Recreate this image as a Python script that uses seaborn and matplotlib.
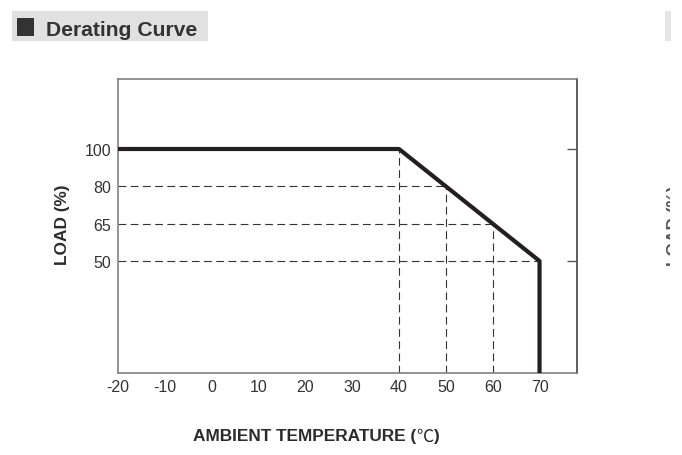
import numpy as np
import pandas as pd
import matplotlib
matplotlib.use("Agg")
import matplotlib.pyplot as plt
from matplotlib.patches import Rectangle
import seaborn as sns

# derating curve
temp = [-20, 40, 50, 60, 70, 70]
load = [100, 100, 80, 65, 50, 0]
x_ticks = [-20, -10, 0, 10, 20, 30, 40, 50, 60, 70]
y_ticks = [100, 80, 65, 50]
right_ticks = [100, 50]
# dashed guides: (load, temp where it ends) and (temp, load where it ends)
h_guides = [(80, 50), (65, 60), (50, 70)]
v_guides = [(40, 100), (50, 80), (60, 65)]

# load axis is not linear: 50/65/80/100 sit equally spaced
load_pts = [0, 50, 65, 80, 100, 200]
axis_pts = [0, 3, 4, 5, 6, 11]
def fwd(v):
    return np.interp(v, load_pts, axis_pts)
def inv(v):
    return np.interp(v, axis_pts, load_pts)

sns.set_theme(style="white")
plt.rcParams['font.family'] = ['Liberation Sans', 'DejaVu Sans']

fig = plt.figure(figsize=(6.82, 4.56), dpi=100)
ax = fig.add_axes([118/682, 1-374/456, 459/682, 294/456])
ax.set_yscale('function', functions=(fwd, inv))

df = pd.DataFrame({'temp': temp, 'load': load})
sns.lineplot(data=df, x='temp', y='load', sort=False, estimator=None,
             color='#231f20', lw=3, ax=ax, zorder=3)

dash = dict(color='#333333', lw=0.8, ls=(0, (7, 4)), zorder=2)
for ld, t in h_guides:
    ax.plot([x_ticks[0], t], [ld, ld], **dash)
for t, ld in v_guides:
    ax.plot([t, t], [0, ld], **dash)

ax.set_xlim(-20, 78)
ax.set_ylim(0, 137.5)
ax.set_xticks(x_ticks)
ax.set_yticks(y_ticks)
ax.set_xticklabels([str(v) for v in x_ticks])
ax.set_yticklabels([str(v) for v in y_ticks])
ax.set_xlabel('')
ax.set_ylabel('')

tick_font = ['Liberation Sans Narrow', 'Liberation Sans', 'DejaVu Sans']
for lab in ax.get_xticklabels() + ax.get_yticklabels():
    lab.set_family(tick_font)
    lab.set_fontsize(11.5)
    lab.set_color('#333333')
ax.tick_params(axis='x', direction='in', length=4, width=1, color='#666666', pad=4)
ax.tick_params(axis='y', length=0, pad=5)

for s in ['left', 'top', 'bottom']:
    ax.spines[s].set_color('#777777')
    ax.spines[s].set_linewidth(1.1)
ax.spines['right'].set_color('#333333')
ax.spines['right'].set_linewidth(1.1)

ax2 = ax.twinx()
ax2.set_yscale('function', functions=(fwd, inv))
ax2.set_ylim(0, 137.5)
ax2.set_yticks(right_ticks)
ax2.set_yticklabels([])
ax2.tick_params(axis='y', direction='in', length=7, width=1, color='#555555')
for s in ax2.spines.values():
    s.set_visible(False)

lab_font = dict(fontsize=12.4, fontweight='bold', color='#2b2b2b')
t1 = fig.text(193/682, 1-437/456, 'AMBIENT TEMPERATURE (', ha='left', va='center', **lab_font)
fig.canvas.draw()
bb = t1.get_window_extent()
t2 = fig.text(bb.x1/682, 1-437/456, '\u2103', ha='left', va='center', fontsize=12.4,
              family=['Noto Sans CJK SC', 'DejaVu Sans'], color='#2b2b2b')
fig.canvas.draw()
bb2 = t2.get_window_extent()
fig.text(bb2.x1/682, 1-437/456, ')', ha='left', va='center', **lab_font)

fig.text(62/682, 1-225/456, 'LOAD (%)', rotation=90, ha='center', va='center', **lab_font)

# title bar
fig.patches.append(Rectangle((12/682, 1-42/456), 196/682, 30/456, transform=fig.transFigure,
                             facecolor='#e1e1e1', edgecolor='none', zorder=0))
fig.patches.append(Rectangle((17/682, 1-37/456), 17/682, 18/456, transform=fig.transFigure,
                             facecolor='#333333', edgecolor='none', zorder=1))
fig.text(46/682, 1-36/456, 'Derating Curve', ha='left', va='baseline',
         fontsize=15.2, fontweight='bold', color='#333333')

# edge of the next panel, cut off
fig.patches.append(Rectangle((665/682, 1-42/456), 6/682, 30/456, transform=fig.transFigure,
                             facecolor='#e6e6e6', edgecolor='none', zorder=0))
fig.text(667/682, 1-226/456, 'LOAD (%)', rotation=90, ha='left', va='center',
         fontsize=12.4, fontweight='bold', color='#555555')
fig.patches.append(Rectangle((670/682, 0.2), 12/682, 0.5, transform=fig.transFigure,
                             facecolor='white', edgecolor='none', zorder=10))

fig.savefig('out.png', dpi=100)
